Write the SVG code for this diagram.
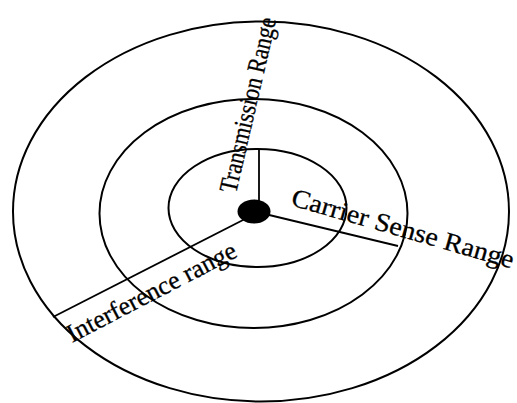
<svg xmlns="http://www.w3.org/2000/svg" width="517" height="403" viewBox="0 0 517 403">
<style>
.ring{fill:none;stroke:#000;stroke-width:2}
.conn{stroke:#000;stroke-width:1.8;fill:none}
.lbl{font-family:"Liberation Serif","Times New Roman",serif;font-size:26px;fill:#000;stroke:#000;stroke-width:0.3}
</style>
<rect width="517" height="403" fill="#fff"/>
<g id="interference-ring"><ellipse class="ring" cx="261" cy="211.5" rx="248" ry="190"/></g>
<g id="carrier-sense-ring"><ellipse class="ring" cx="253.5" cy="213.5" rx="154" ry="114.5"/></g>
<g id="transmission-ring"><ellipse class="ring" cx="257.5" cy="208" rx="89" ry="59"/></g>
<g id="connectors">
<line class="conn" x1="259" y1="150" x2="259" y2="205"/>
<line class="conn" x1="265" y1="214" x2="398" y2="246"/>
<line class="conn" x1="245" y1="219" x2="53" y2="317"/>
</g>
<g id="node"><ellipse cx="254" cy="211.5" rx="16.5" ry="12" fill="#000"/></g>
<g id="labels">
<text class="lbl" transform="translate(236,194) rotate(-77) scale(0.845,1)">Transmission Range</text>
<text class="lbl" transform="translate(290,205) rotate(16)" textLength="230" lengthAdjust="spacingAndGlyphs">Carrier Sense Range</text>
<text class="lbl" transform="translate(72,343) rotate(-27.5)" textLength="188" lengthAdjust="spacingAndGlyphs">Interference range</text>
</g>
</svg>
